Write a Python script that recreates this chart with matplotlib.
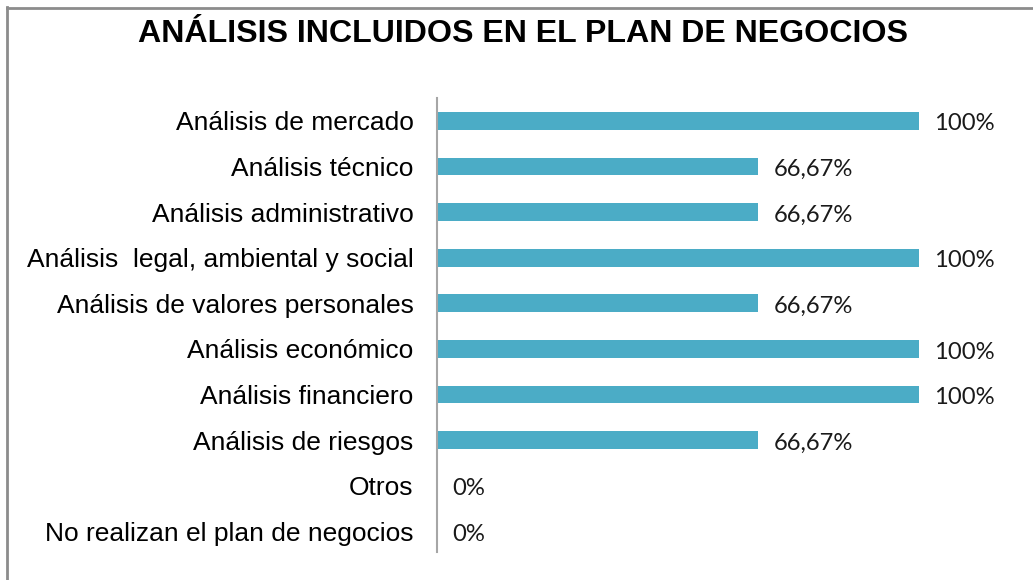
#!/usr/bin/env python3

import matplotlib
matplotlib.use("Agg")
import matplotlib.pyplot as plt
from matplotlib.lines import Line2D

categories = [
    "Análisis de mercado",
    "Análisis técnico",
    "Análisis administrativo",
    "Análisis  legal, ambiental y social",
    "Análisis de valores personales",
    "Análisis económico",
    "Análisis financiero",
    "Análisis de riesgos",
    "Otros",
    "No realizan el plan de negocios",
]
values = [100, 66.67, 66.67, 100, 66.67, 100, 100, 66.67, 0, 0]
value_labels = ["100%", "66,67%", "66,67%", "100%", "66,67%",
                "100%", "100%", "66,67%", "0%", "0%"]

title = "ANÁLISIS INCLUIDOS EN EL PLAN DE NEGOCIOS"
bar_color = "#4BACC6"

W, H = 1033, 580
fig = plt.figure(figsize=(W / 100, H / 100), dpi=100)
fig.patch.set_facecolor("white")

# axes placed by pixel positions of the reference
ax = fig.add_axes([437 / W, 1 - 552 / H, (919 - 437) / W, (552 - 98) / H])

y = range(len(categories))
ax.barh(y, values, height=0.39, color=bar_color)
ax.set_xlim(0, 100)
ax.set_ylim(9.45, -0.5)

ax.set_yticks(list(y))
ax.set_yticklabels(categories, fontfamily="Liberation Sans", fontsize=19)
ax.tick_params(axis="y", length=0, pad=17)
ax.set_xticks([])

for side in ["top", "right", "bottom"]:
    ax.spines[side].set_visible(False)
ax.spines["left"].set_color("#A6A6A6")
ax.spines["left"].set_linewidth(1.5)

for yi, v, lab in zip(y, values, value_labels):
    ax.annotate(lab, (v, yi), xytext=(11, -2.2), textcoords="offset points",
                va="center", ha="left", fontfamily="Lato", fontsize=17.1,
                color="#1a1a1a")

fig.text(523 / W, 1 - 42 / H, title, ha="center", va="baseline",
         fontfamily="Liberation Sans", fontweight="bold", fontsize=23.1)

# chart frame, clipped at right and bottom in the reference
fig.add_artist(Line2D([7 / W, 7 / W], [0, 1 - 7 / H], transform=fig.transFigure,
                      color="#8C8C8C", linewidth=2))
fig.add_artist(Line2D([7 / W, 1], [1 - 7.5 / H, 1 - 7.5 / H], transform=fig.transFigure,
                      color="#8C8C8C", linewidth=2))

fig.savefig("out.png", dpi=100)
